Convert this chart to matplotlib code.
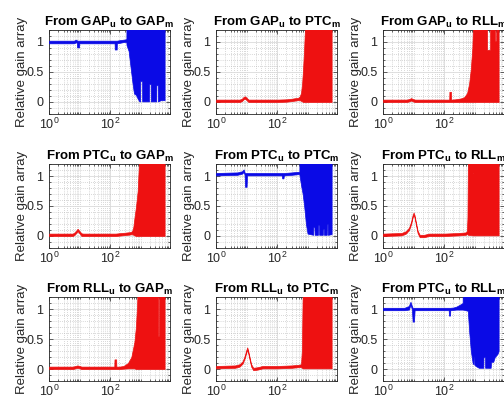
import matplotlib
matplotlib.use("Agg")
import matplotlib.pyplot as plt
from matplotlib.ticker import NullFormatter

plt.rcParams['font.family'] = ['Liberation Sans', 'DejaVu Sans']
plt.rcParams['mathtext.fontset'] = 'custom'
plt.rcParams['mathtext.rm'] = 'Liberation Sans'
plt.rcParams['mathtext.it'] = 'Liberation Sans:italic'
plt.rcParams['mathtext.bf'] = 'Liberation Sans:bold'

BLUE = '#0a0ae6'
RED = '#ee1111'
TXT = '#262626'

# --- data: frequency points and lower / upper envelope ---
# row 1
gg_f = [1, 6.5, 7.6, 8.1, 8.3, 9.6, 9.8, 11, 139, 141, 163, 165, 200, 280, 330, 338, 341,
        400, 470, 540, 600, 690, 800, 900, 950, 960, 1100, 1110, 1850, 1870, 2100, 2120,
        3200, 3230, 3600, 3630, 4500, 6000]
gg_lo = [0.978, 0.978, 0.995, 0.985, 0.91, 0.91, 0.978, 0.978, 0.978, 0.875, 0.875, 0.978,
         0.985, 1.0, 1.0, 0.99, 0.95, 0.85, 0.55, 0.3, 0.14, 0.12, 0.05, 0.01, 0.01, 0.35,
         0.35, 0.01, 0.01, 0.3, 0.3, 0.01, 0.01, 0.28, 0.28, 0.01, 0.03, 0.03]
gg_hi = [1.022, 1.022, 1.04, 1.03, 1.022, 1.022, 1.022, 1.022, 1.022, 1.022, 1.022, 1.022,
         1.03, 1.04, 1.045, 1.045, 1.5, 1.5, 1.5, 1.5, 1.5, 1.5, 1.5, 1.5, 1.5, 1.5, 1.5,
         1.5, 1.5, 1.5, 1.5, 1.5, 1.5, 1.5, 1.5, 1.5, 1.5, 1.5]

gp_f = [1, 6.0, 7.0, 8.0, 8.8, 9.8, 11.5, 13, 100, 200, 300, 400, 480, 540, 600, 650, 700,
        760, 820, 870, 6000]
gp_lo = [0.0, 0.0, 0.015, 0.045, 0.055, 0.035, 0.0, 0.0, 0.0, 0.005, 0.015, 0.025, 0.03,
         0.03, 0.02, 0.01, 0.0, 0.0, 0.0, 0.0, 0.0]
gp_hi = [0.04, 0.04, 0.055, 0.085, 0.095, 0.075, 0.04, 0.04, 0.04, 0.045, 0.055, 0.065,
         0.07, 0.09, 0.15, 0.3, 0.55, 0.9, 1.3, 1.5, 1.5]

gr_f = [1, 6, 7.2, 8.3, 9.5, 11, 146, 148, 166, 168, 230, 350, 450, 560, 650, 740, 830, 900,
        2500, 2520, 3150, 3170, 4550, 4570, 5000, 5020, 6000]
gr_lo = [0.0, 0.0, 0.01, 0.025, 0.01, 0.0, 0.0, 0.0, 0.0, 0.0, 0.0, 0.0, 0.0, 0.0, 0.0, 0.0,
         0.0, 0.0, 0.0, 0.0, 0.0, 0.0, 0.0, 0.0, 0.0, 0.0, 0.0]
gr_hi = [0.04, 0.04, 0.05, 0.065, 0.05, 0.04, 0.04, 0.17, 0.17, 0.04, 0.045, 0.06, 0.08,
         0.15, 0.3, 0.55, 0.9, 1.5, 1.5, 0.87, 0.87, 1.5, 1.5, 1.02, 1.02, 1.5, 1.5]

# row 2
pg_f = [1, 6, 7.2, 8.6, 10, 11.5, 13, 150, 300, 450, 520, 570, 620, 700, 790, 850, 900, 6000]
pg_lo = [0.0, 0.0, 0.03, 0.08, 0.04, 0.0, 0.0, 0.0, 0.015, 0.025, 0.03, 0.02, 0.01, 0.0,
         0.0, 0.0, 0.0, 0.0]
pg_hi = [0.04, 0.04, 0.07, 0.12, 0.08, 0.045, 0.04, 0.04, 0.055, 0.065, 0.08, 0.15, 0.3,
         0.5, 0.75, 1.1, 1.5, 1.5]

pp_f = [1, 5, 7.2, 8.0, 8.6, 8.9, 10.0, 10.3, 12, 140, 146, 160, 166, 300, 480, 530, 540,
        600, 680, 760, 870, 980, 1500, 1520, 1650, 1670, 2150, 2170, 2330, 2350, 3100, 3120,
        3350, 3370, 4150, 4170, 4450, 4470, 6000]
pp_lo = [1.01, 1.02, 1.04, 1.07, 1.02, 0.82, 0.82, 1.01, 1.01, 1.01, 0.96, 0.96, 1.01, 1.02,
         1.03, 1.03, 1.0, 0.85, 0.7, 0.5, 0.2, 0.04, 0.02, 0.15, 0.15, 0.02, 0.02, 0.18,
         0.18, 0.02, 0.02, 0.12, 0.12, 0.02, 0.02, 0.2, 0.2, 0.02, 0.03]
pp_hi = [1.05, 1.06, 1.08, 1.11, 1.06, 1.05, 1.05, 1.05, 1.05, 1.05, 1.05, 1.05, 1.05, 1.06,
         1.07, 1.07, 1.5, 1.5, 1.5, 1.5, 1.5, 1.5, 1.5, 1.5, 1.5, 1.5, 1.5, 1.5, 1.5, 1.5,
         1.5, 1.5, 1.5, 1.5, 1.5, 1.5, 1.5, 1.5, 1.5]

pr_f = [1, 4, 5.6, 7.1, 8.3, 9.3, 10, 10.7, 12, 13.5, 15.8, 22, 32, 100, 300, 500, 550, 575,
        600, 850, 860, 900, 910, 6000]
pr_lo = [0.0, 0.01, 0.04, 0.10, 0.20, 0.31, 0.35, 0.31, 0.18, 0.05, -0.02, -0.02, 0.0, 0.0,
         0.01, 0.02, 0.03, 0.03, 0.02, 0.01, 0.01, 0.01, 0.01, 0.01]
pr_hi = [0.04, 0.05, 0.08, 0.14, 0.24, 0.35, 0.39, 0.35, 0.22, 0.09, 0.02, 0.02, 0.04, 0.04,
         0.05, 0.06, 0.08, 0.3, 1.5, 1.5, 1.05, 1.05, 1.5, 1.5]

# row 3
rg_f = [1, 6, 7.2, 8.5, 10, 11.5, 136, 138, 157, 159, 200, 270, 380, 490, 617, 692, 760, 800,
        3700, 3720, 3980, 4000, 6000]
rg_lo = [0.0, 0.0, 0.01, 0.02, 0.01, 0.0, 0.0, 0.0, 0.0, 0.0, 0.0, 0.005, 0.01, 0.01, 0.01,
         0.0, 0.0, 0.0, 0.0, 0.0, 0.0, 0.0, 0.0]
rg_hi = [0.04, 0.04, 0.05, 0.06, 0.05, 0.04, 0.04, 0.16, 0.16, 0.04, 0.04, 0.05, 0.1, 0.2,
         0.45, 0.7, 1.1, 1.5, 1.5, 0.55, 0.55, 1.5, 1.5]

rp_f = [1, 4.2, 5.9, 7.4, 8.7, 9.7, 10.5, 11.2, 12.6, 14.1, 16.5, 23, 33, 100, 300, 500, 600,
        640, 690, 6000]
rp_lo = [0.01, 0.02, 0.04, 0.09, 0.18, 0.27, 0.32, 0.27, 0.15, 0.04, -0.02, -0.01, 0.01,
         0.01, 0.02, 0.03, 0.03, 0.02, 0.01, 0.01]
rp_hi = [0.05, 0.06, 0.08, 0.13, 0.22, 0.31, 0.36, 0.31, 0.19, 0.08, 0.02, 0.03, 0.05, 0.05,
         0.06, 0.07, 0.08, 0.3, 1.5, 1.5]

r2_f = [1, 5, 7.0, 7.9, 8.8, 9.3, 10.3, 10.8, 13, 140, 143, 155, 158, 200, 250, 320, 400,
        410, 590, 661, 741, 851, 900, 910, 960, 970, 1072, 1349, 1900, 1920, 2150, 2170,
        3300, 3400, 4000, 4500, 5500, 6000]
r2_lo = [0.98, 0.98, 0.99, 1.07, 1.0, 0.79, 0.79, 0.98, 0.98, 0.98, 0.89, 0.89, 0.98, 0.985,
         0.99, 0.99, 0.99, 0.99, 0.97, 0.6, 0.3, 0.1, 0.08, 0.22, 0.22, 0.07, 0.05, 0.02,
         0.02, 0.2, 0.2, 0.02, 0.02, 0.12, 0.12, 0.2, 0.25, 0.3]
r2_hi = [1.02, 1.02, 1.05, 1.12, 1.05, 1.02, 1.02, 1.02, 1.02, 1.02, 1.02, 1.02, 1.02, 1.025,
         1.04, 1.07, 1.1, 1.5, 1.5, 1.5, 1.5, 1.5, 1.5, 1.5, 1.5, 1.5, 1.5, 1.5, 1.5, 1.5,
         1.5, 1.5, 1.5, 1.5, 1.5, 1.5, 1.5, 1.5]

titles = [r'From GAP$_\mathbf{u}$ to GAP$_\mathbf{m}$',
          r'From GAP$_\mathbf{u}$ to PTC$_\mathbf{m}$',
          r'From GAP$_\mathbf{u}$ to RLL$_\mathbf{m}$',
          r'From PTC$_\mathbf{u}$ to GAP$_\mathbf{m}$',
          r'From PTC$_\mathbf{u}$ to PTC$_\mathbf{m}$',
          r'From PTC$_\mathbf{u}$ to RLL$_\mathbf{m}$',
          r'From RLL$_\mathbf{u}$ to GAP$_\mathbf{m}$',
          r'From RLL$_\mathbf{u}$ to PTC$_\mathbf{m}$',
          r'From PTC$_\mathbf{u}$ to RLL$_\mathbf{m}$']

panels = [(gg_f, gg_lo, gg_hi, BLUE), (gp_f, gp_lo, gp_hi, RED), (gr_f, gr_lo, gr_hi, RED),
          (pg_f, pg_lo, pg_hi, RED), (pp_f, pp_lo, pp_hi, BLUE), (pr_f, pr_lo, pr_hi, RED),
          (rg_f, rg_lo, rg_hi, RED), (rp_f, rp_lo, rp_hi, RED), (r2_f, r2_lo, r2_hi, BLUE)]

# layout in pixels (the reference is a crop, the right column runs to the edge)
W, H = 504, 401
col_left = [49, 216, 383]
row_top = [30, 164, 297]
ax_w, ax_h = 121, 84

minor_x = [m * 10 ** d for d in range(4) for m in range(1, 10) if m * 10 ** d not in (1, 100)]
minor_y = [-0.2, -0.1, 0.1, 0.2, 0.3, 0.4, 0.6, 0.7, 0.8, 0.9, 1.1, 1.2]

fig = plt.figure(figsize=(W / 100, H / 100), dpi=100)

for i, ((f, lo, hi, c), title) in enumerate(zip(panels, titles)):
    r, k = divmod(i, 3)
    ax = fig.add_axes([col_left[k] / W, 1 - (row_top[r] + ax_h) / H, ax_w / W, ax_h / H])
    ax.fill_between(f, lo, hi, color=c, lw=0.5, zorder=3)

    ax.set_xscale('log')
    ax.set_xlim(1, 6000)
    ax.set_ylim(-0.2, 1.2)
    ax.set_xticks([1, 100])
    ax.set_xticklabels([r'$10^{0}$', r'$10^{2}$'])
    ax.set_xticks(minor_x, minor=True)
    ax.xaxis.set_minor_formatter(NullFormatter())
    ax.set_yticks([0, 0.5, 1])
    ax.set_yticklabels(['0', '0.5', '1'])
    ax.set_yticks(minor_y, minor=True)

    ax.set_axisbelow(True)
    ax.grid(True, which='major', color='#dadada', lw=0.6, ls='-')
    ax.grid(True, which='minor', color='#b4b4b4', lw=0.5, ls=(0, (1, 2)))

    ax.tick_params(which='both', direction='in', top=True, right=True, width=0.5,
                   color=TXT, labelcolor=TXT, labelsize=9)
    ax.tick_params(which='major', length=3)
    ax.tick_params(which='minor', length=1.5)
    ax.tick_params(axis='x', pad=2)
    ax.tick_params(axis='y', pad=4)
    for s in ax.spines.values():
        s.set_color(TXT)
        s.set_linewidth(0.6)

    ax.set_ylabel('Relative gain array', fontsize=9.5, color=TXT)
    ax.yaxis.set_label_coords(-0.17, 0.5)
    ax.set_title(title, fontsize=9.5, fontweight='bold', pad=3)

fig.savefig('out.png', dpi=100)
